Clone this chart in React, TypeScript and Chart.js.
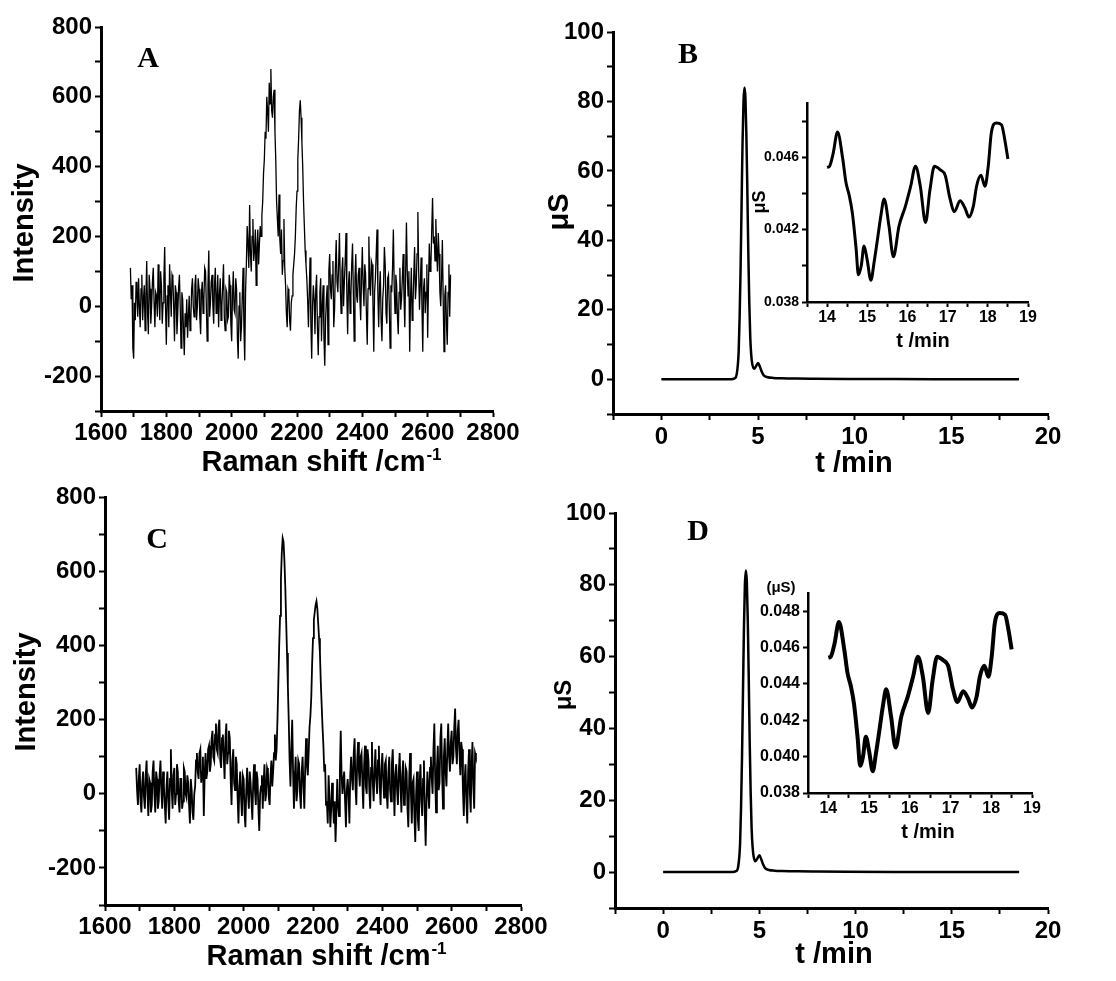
import React, { useEffect, useRef } from "react";
import { Chart, registerables } from "chart.js";

Chart.register(...registerables);

// ---------------- data ----------------
const ramanShift = [
  1690, 1692.5, 1695, 1697.5, 1700, 1702.5, 1705, 1707.5, 1710, 1712.5, 1715, 1717.5, 1720, 1722.5, 1725, 1727.5, 1730, 1732.5, 1735, 1737.5,
  1740, 1742.5, 1745, 1747.5, 1750, 1752.5, 1755, 1757.5, 1760, 1762.5, 1765, 1767.5, 1770, 1772.5, 1775, 1777.5, 1780, 1782.5, 1785, 1787.5,
  1790, 1792.5, 1795, 1797.5, 1800, 1802.5, 1805, 1807.5, 1810, 1812.5, 1815, 1817.5, 1820, 1822.5, 1825, 1827.5, 1830, 1832.5, 1835, 1837.5,
  1840, 1842.5, 1845, 1847.5, 1850, 1852.5, 1855, 1857.5, 1860, 1862.5, 1865, 1867.5, 1870, 1872.5, 1875, 1877.5, 1880, 1882.5, 1885, 1887.5,
  1890, 1892.5, 1895, 1897.5, 1900, 1902.5, 1905, 1907.5, 1910, 1912.5, 1915, 1917.5, 1920, 1922.5, 1925, 1927.5, 1930, 1932.5, 1935, 1937.5,
  1940, 1942.5, 1945, 1947.5, 1950, 1952.5, 1955, 1957.5, 1960, 1962.5, 1965, 1967.5, 1970, 1972.5, 1975, 1977.5, 1980, 1982.5, 1985, 1987.5,
  1990, 1992.5, 1995, 1997.5, 2000, 2002.5, 2005, 2007.5, 2010, 2012.5, 2015, 2017.5, 2020, 2022.5, 2025, 2027.5, 2030, 2032.5, 2035, 2037.5,
  2040, 2042.5, 2045, 2047.5, 2050, 2052.5, 2055, 2057.5, 2060, 2062.5, 2065, 2067.5, 2070, 2072.5, 2075, 2077.5, 2080, 2082.5, 2085, 2087.5,
  2090, 2092.5, 2095, 2097.5, 2100, 2102.5, 2105, 2107.5, 2110, 2112.5, 2115, 2117.5, 2120, 2122.5, 2125, 2127.5, 2130, 2132.5, 2135, 2137.5,
  2140, 2142.5, 2145, 2147.5, 2150, 2152.5, 2155, 2157.5, 2160, 2162.5, 2165, 2167.5, 2170, 2172.5, 2175, 2177.5, 2180, 2182.5, 2185, 2187.5,
  2190, 2192.5, 2195, 2197.5, 2200, 2202.5, 2205, 2207.5, 2210, 2212.5, 2215, 2217.5, 2220, 2222.5, 2225, 2227.5, 2230, 2232.5, 2235, 2237.5,
  2240, 2242.5, 2245, 2247.5, 2250, 2252.5, 2255, 2257.5, 2260, 2262.5, 2265, 2267.5, 2270, 2272.5, 2275, 2277.5, 2280, 2282.5, 2285, 2287.5,
  2290, 2292.5, 2295, 2297.5, 2300, 2302.5, 2305, 2307.5, 2310, 2312.5, 2315, 2317.5, 2320, 2322.5, 2325, 2327.5, 2330, 2332.5, 2335, 2337.5,
  2340, 2342.5, 2345, 2347.5, 2350, 2352.5, 2355, 2357.5, 2360, 2362.5, 2365, 2367.5, 2370, 2372.5, 2375, 2377.5, 2380, 2382.5, 2385, 2387.5,
  2390, 2392.5, 2395, 2397.5, 2400, 2402.5, 2405, 2407.5, 2410, 2412.5, 2415, 2417.5, 2420, 2422.5, 2425, 2427.5, 2430, 2432.5, 2435, 2437.5,
  2440, 2442.5, 2445, 2447.5, 2450, 2452.5, 2455, 2457.5, 2460, 2462.5, 2465, 2467.5, 2470, 2472.5, 2475, 2477.5, 2480, 2482.5, 2485, 2487.5,
  2490, 2492.5, 2495, 2497.5, 2500, 2502.5, 2505, 2507.5, 2510, 2512.5, 2515, 2517.5, 2520, 2522.5, 2525, 2527.5, 2530, 2532.5, 2535, 2537.5,
  2540, 2542.5, 2545, 2547.5, 2550, 2552.5, 2555, 2557.5, 2560, 2562.5, 2565, 2567.5, 2570, 2572.5, 2575, 2577.5, 2580, 2582.5, 2585, 2587.5,
  2590, 2592.5, 2595, 2597.5, 2600, 2602.5, 2605, 2607.5, 2610, 2612.5, 2615, 2617.5, 2620, 2622.5, 2625, 2627.5, 2630, 2632.5, 2635, 2637.5,
  2640, 2642.5, 2645, 2647.5, 2650, 2652.5, 2655, 2657.5, 2660, 2662.5, 2665, 2667.5, 2670,
];

const intensityA = [
  110, 20, 60, -120, -150, 10, -40, 70, 40, -30, 80, 0, -60, 50, 90, -40, 20, 60, -70, 30,
  130, -20, -80, 90, 50, -50, 0, 70, 110, 10, -60, 40, 30, -30, 120, 20, -40, 100, 60, -50,
  10, 80, 170, 0, -110, 30, 60, -60, 120, 40, -30, 90, 80, 0, -100, 60, 40, -80, -20, 50,
  90, 0, -120, 40, 20, -70, -140, -20, -60, 20, -90, -30, 30, -70, -40, 50, 80, 0, -30, 60,
  90, -40, 0, 80, 50, -30, -80, 40, 70, -20, 20, 110, 100, 0, -100, 60, 160, -30, 10, 70,
  90, 0, -50, 60, 110, -20, 20, 90, -60, 30, 80, -40, 0, 60, 120, -30, -70, 50, 40, -40,
  -30, 90, 60, -50, -100, 30, 100, -10, -20, 80, 50, -90, -150, 0, 40, -100, -60, 30, 110, -60,
  -155, 40, 120, 230, 180, 110, 290, 150, 100, 200, 250, 130, 160, 220, 60, 170, 220, 120, 180, 230,
  200, 260, 300, 380, 420, 500, 480, 600, 560, 500, 640, 580, 680, 560, 540, 600, 620, 500, 420, 300,
  250, 200, 320, 190, 150, 220, 90, 130, 250, 110, 60, -20, -60, 50, 40, -40, -70, 10, 30, 90,
  120, 150, 200, 280, 330, 420, 480, 560, 590, 540, 470, 400, 300, 230, 160, 120, 80, 20, -60, 40,
  140, -50, -150, 0, 60, 20, -80, 50, 90, -60, -140, -30, 40, 80, -100, 0, 60, -90, -170, -40,
  20, 60, -110, 100, 150, 50, 20, 90, 130, -60, -10, 110, 190, 70, 40, 120, 210, 60, -20, 100,
  140, 0, 70, 130, 210, 40, -80, 60, 100, -20, 30, 120, 180, 40, -100, 80, 150, 30, 10, 90,
  110, 20, -40, 80, 170, 60, 0, 120, 90, -20, -110, 50, 200, 70, 30, 130, 120, 10, -130, 40,
  80, 150, 220, 40, -60, 50, 100, -40, -100, 20, 60, 170, 120, -20, -50, 80, 90, 0, -120, 60,
  40, 110, 220, 60, -20, 90, 60, -30, -80, 40, 110, -10, 20, 80, 150, 30, -60, 90, 240, 100,
  30, 100, -130, 20, 110, -40, 0, 90, 170, 20, 60, 150, 270, 100, -10, 60, 140, 0, -130, 50,
  80, -20, 40, 120, -90, 60, 180, 100, 120, 220, 310, 180, 200, 130, 250, 160, 100, 210, 150, 40,
  0, 80, 190, 20, -130, 30, 60, -50, -110, 40, 120, -30, 90,
];

const intensityC = [
  70, 10, -30, 40, 80, -20, -50, 30, 60, -10, -40, 50, 90, 0, -60, 40, 30, -50, -30, 60,
  90, 0, -50, 60, 40, -40, -20, 50, 90, 10, -40, 60, 20, -30, -80, 20, 60, -20, -70, 40,
  120, 10, -40, 50, 70, -30, 0, 80, 60, -20, -50, 40, 40, -40, -20, 70, 60, 0, -10, 50,
  30, -30, -80, 40, 10, -50, -70, 0, 20, 90, 110, 60, 40, 110, 120, 30, 60, 100, -60, 50,
  110, 40, 60, 120, 130, 60, 80, 150, 170, 100, 90, 160, 190, 120, 110, 180, 200, 90, 70, 150,
  160, 100, 40, 150, 190, 80, 110, 170, 150, 40, -30, 90, 120, 30, 10, 100, 80, -10, -80, 20,
  60, -10, -60, 50, 40, -50, -90, 10, 70, 0, -40, 60, 30, -20, -70, 30, 80, 10, -30, 60,
  40, -40, -100, 0, 20, 50, -40, 30, 80, -20, 0, 70, 60, -10, -30, 50, 90, 20, 60, 110,
  160, 90, 120, 200, 300, 400, 480, 580, 650, 690, 680, 630, 560, 470, 380, 290, 200, 90, 20, 120,
  200, 60, -40, 40, 100, -20, 10, 90, 80, 0, -40, 60, 100, 20, -40, 70, 150, 80, 50, 110,
  180, 210, 260, 350, 420, 470, 490, 510, 520, 500, 460, 420, 380, 300, 240, 180, 130, 60, 80, -30,
  -20, -80, 50, -10, -90, -40, 30, -20, -80, -20, -130, -50, 40, -30, -60, 60, 170, 50, 0, 40,
  60, -20, -90, 10, 40, 0, -80, 50, 100, 40, 10, 110, 150, 20, -30, 90, 140, 60, 20, 100,
  110, 30, -40, 80, 130, 20, 0, 120, 90, 10, -40, 70, 140, 30, -20, 60, 120, 40, 0, 90,
  130, 20, -30, 70, 110, 40, -10, 80, 90, 0, -40, 60, 100, 10, -20, 80, 120, 30, -60, 50,
  80, 10, -30, 60, 110, 20, -50, 50, 90, -30, -20, 70, 60, -40, -90, 40, 110, 0, -80, 30,
  40, -60, -130, 0, 60, -70, -100, 30, 80, -20, -60, 40, 90, -50, -140, -20, 60, 10, -40, 70,
  100, 40, 0, 120, 190, 40, -50, 70, 130, 10, 30, 150, 190, 50, -40, 100, 150, 60, 20, 120,
  190, 100, 60, 140, 170, 80, 100, 180, 230, 120, 80, 170, 200, 110, 50, 140, 120, 10, -60, 40,
  80, -20, -80, 60, 120, 0, -50, 80, 140, 20, -40, 110, 100,
];

const chromTime = [
  0, 2, 3.6, 3.8, 3.9, 4.0, 4.05, 4.1, 4.15, 4.2, 4.25, 4.3, 4.35, 4.4, 4.45,
  4.5, 4.55, 4.6, 4.65, 4.7, 4.8, 4.9, 5.0, 5.1, 5.2, 5.3, 5.5, 5.8, 6.2, 7,
  8, 9.5, 12, 15, 18.5,
];
const chromSignal = [
  0, 0, 0, 0.3, 1.5, 8, 18, 32, 50, 68, 80, 84, 81, 70, 54,
  36, 22, 12, 7, 4.5, 3, 3.8, 4.7, 3.6, 2.1, 1.1, 0.6, 0.4, 0.3, 0.2,
  0.15, 0.1, 0.05, 0.02, 0,
];

const insetTime = [
  14.0, 14.06, 14.15, 14.26, 14.39, 14.47, 14.55, 14.63, 14.72, 14.78,
  14.85, 14.92, 15.0, 15.09, 15.17, 15.25, 15.34, 15.42, 15.54, 15.65,
  15.79, 15.95, 16.08, 16.2, 16.32, 16.45, 16.56, 16.67, 16.82, 16.94,
  17.06, 17.17, 17.31, 17.43, 17.53, 17.64, 17.72, 17.83, 17.93, 18.01,
  18.09, 18.21, 18.34, 18.42, 18.5,
];
const insetSignal = [
  0.04544, 0.0455, 0.0462, 0.0474, 0.0459, 0.0446, 0.0439, 0.0429, 0.041, 0.0395,
  0.04, 0.0411, 0.0403, 0.0392, 0.0402, 0.0414, 0.0428, 0.0437, 0.0422, 0.0405,
  0.0422, 0.0433, 0.0444, 0.0455, 0.0444, 0.0424, 0.0442, 0.0455, 0.0453, 0.045,
  0.0437, 0.043, 0.0436, 0.0432, 0.0427, 0.0433, 0.0444, 0.045, 0.0444, 0.0455,
  0.0474, 0.0479, 0.0478, 0.047, 0.0459,
];

// tick values / labels
const ramanTicks = [1600, 1700, 1800, 1900, 2000, 2100, 2200, 2300, 2400, 2500, 2600, 2700, 2800];
const ramanLabels = [1600, 1800, 2000, 2200, 2400, 2600, 2800];
const intensityTicks = [-300, -200, -100, 0, 100, 200, 300, 400, 500, 600, 700, 800];
const intensityLabels = [-200, 0, 200, 400, 600, 800];
const timeTicks = [-2.5, 0, 2.5, 5, 7.5, 10, 12.5, 15, 17.5, 20];
const timeLabels = [0, 5, 10, 15, 20];
const signalTicks = [-10, 0, 10, 20, 30, 40, 50, 60, 70, 80, 90, 100];
const signalLabels = [0, 20, 40, 60, 80, 100];
const insetTimeTicks = [13.5, 14, 14.5, 15, 15.5, 16, 16.5, 17, 17.5, 18, 18.5, 19];
const insetTimeLabels = [14, 15, 16, 17, 18, 19];
const insetSignalTicks = [0.038, 0.04, 0.042, 0.044, 0.046, 0.048];
const insetBLabels = [0.038, 0.042, 0.046];
const insetDLabels = [0.038, 0.04, 0.042, 0.044, 0.046, 0.048];

// ---------------- drawing helpers ----------------
const SANS = '"Liberation Sans", Arial, sans-serif';
const SERIF = '"Liberation Serif", "Times New Roman", serif';

type Txt = { text: string; x: number; y: number; size: number; serif?: boolean; rotate?: boolean; sup?: string };
type AxisSpec = { min: number; max: number; ticks: number[]; labels: number[]; decimals: number; size: number; pad: number; tickLen: number };
type PanelSpec = {
  left: number; top: number; w: number; h: number;
  area: [number, number, number, number];
  wy: number; hx: number;
  x: AxisSpec; y: AxisSpec;
  border: number;
  xs: number[]; ys: number[];
  lineWidth: number; smooth: boolean;
  texts: Txt[];
};

function textPlugin(items: Txt[], ox: number, oy: number) {
  return {
    id: "pageText",
    afterDraw(chart: any) {
      const ctx = chart.ctx as CanvasRenderingContext2D;
      ctx.save();
      ctx.fillStyle = "#000";
      ctx.textBaseline = "middle";
      for (const it of items) {
        const font = `bold ${it.size}px ${it.serif ? SERIF : SANS}`;
        ctx.save();
        ctx.translate(it.x - ox, it.y - oy);
        if (it.rotate) ctx.rotate(-Math.PI / 2);
        ctx.font = font;
        if (it.sup) {
          const w1 = ctx.measureText(it.text).width;
          const supFont = `bold ${Math.round(it.size * 0.6)}px ${SANS}`;
          ctx.font = supFont;
          const w2 = ctx.measureText(it.sup).width;
          const x0 = -(w1 + w2) / 2;
          ctx.font = font;
          ctx.textAlign = "left";
          ctx.fillText(it.text, x0, 0);
          ctx.font = supFont;
          ctx.fillText(it.sup, x0 + w1 + 1, -it.size * 0.28);
        } else {
          ctx.textAlign = "center";
          ctx.fillText(it.text, 0, 0);
        }
        ctx.restore();
      }
      ctx.restore();
    },
  };
}

function buildConfig(p: PanelSpec): any {
  const [l, t, r, b] = p.area;
  const padding = {
    left: l - p.left - p.wy,
    top: t - p.top,
    right: p.left + p.w - r,
    bottom: p.top + p.h - b - p.hx,
  };
  const data = p.xs.map((x, i) => ({ x, y: p.ys[i] }));
  const mkScale = (a: AxisSpec, horizontal: boolean) => ({
    type: "linear",
    position: horizontal ? "bottom" : "left",
    min: a.min,
    max: a.max,
    border: { display: true, color: "#000", width: p.border },
    grid: {
      display: true,
      drawOnChartArea: false,
      drawTicks: true,
      tickLength: a.tickLen,
      tickWidth: 2,
      tickColor: "#000",
      color: "#000",
    },
    ticks: {
      autoSkip: false,
      maxRotation: 0,
      minRotation: 0,
      color: "#000",
      padding: a.pad,
      font: { family: SANS, size: a.size, weight: "bold" },
      callback: (v: number) =>
        a.labels.some((L) => Math.abs(L - v) < 1e-9) ? Number(v).toFixed(a.decimals) : "",
    },
    afterBuildTicks: (s: any) => {
      s.ticks = a.ticks.map((v) => ({ value: v }));
    },
    afterFit: (s: any) => {
      if (horizontal) s.height = p.hx;
      else s.width = p.wy;
    },
  });
  return {
    type: "line",
    data: {
      datasets: [
        {
          data,
          borderColor: "#000",
          borderWidth: p.lineWidth,
          pointRadius: 0,
          fill: false,
          tension: p.smooth ? 0.4 : 0,
          cubicInterpolationMode: p.smooth ? "monotone" : "default",
        },
      ],
    },
    options: {
      responsive: false,
      animation: false,
      devicePixelRatio: 1,
      events: [],
      layout: { padding, autoPadding: false },
      plugins: { legend: { display: false }, tooltip: { enabled: false }, title: { display: false } },
      scales: { x: mkScale(p.x, true), y: mkScale(p.y, false) },
    },
    plugins: [textPlugin(p.texts, p.left, p.top)],
  };
}

// ---------------- panels ----------------
const ramanX = (size: number): AxisSpec => ({ min: 1600, max: 2800, ticks: ramanTicks, labels: ramanLabels, decimals: 0, size, pad: 2, tickLen: 6 });
const intensityY = (size: number): AxisSpec => ({ min: -300, max: 800, ticks: intensityTicks, labels: intensityLabels, decimals: 0, size, pad: 3, tickLen: 6 });
const timeX = (size: number): AxisSpec => ({ min: -2.5, max: 20, ticks: timeTicks, labels: timeLabels, decimals: 0, size, pad: 3, tickLen: 6 });
const signalY = (size: number): AxisSpec => ({ min: -10, max: 100, ticks: signalTicks, labels: signalLabels, decimals: 0, size, pad: 3, tickLen: 6 });
const insetX: AxisSpec = { min: 13.5, max: 19, ticks: insetTimeTicks, labels: insetTimeLabels, decimals: 0, size: 16, pad: 1, tickLen: 5 };

const panels: PanelSpec[] = [
  {
    left: 0, top: 0, w: 558, h: 490,
    area: [101, 27, 493, 411], wy: 80, hx: 50,
    x: ramanX(24), y: intensityY(24), border: 3,
    xs: ramanShift, ys: intensityA, lineWidth: 1.3, smooth: false,
    texts: [
      { text: "A", x: 148, y: 59, size: 30, serif: true },
      { text: "Intensity", x: 25, y: 223, size: 29, rotate: true },
      { text: "Raman shift /cm", sup: "-1", x: 321, y: 463, size: 29 },
    ],
  },
  {
    left: 540, top: 0, w: 576, h: 490,
    area: [613, 32, 1048, 414], wy: 60, hx: 50,
    x: timeX(24), y: signalY(24), border: 3,
    xs: chromTime, ys: chromSignal, lineWidth: 2.5, smooth: true,
    texts: [
      { text: "B", x: 688, y: 55, size: 30, serif: true },
      { text: "μS", x: 560, y: 212, size: 29, rotate: true },
      { text: "t /min", x: 854, y: 464, size: 29 },
    ],
  },
  {
    left: 0, top: 480, w: 558, h: 501,
    area: [105, 493, 521, 905], wy: 80, hx: 50,
    x: ramanX(24), y: intensityY(24), border: 3,
    xs: ramanShift, ys: intensityC, lineWidth: 1.8, smooth: false,
    texts: [
      { text: "C", x: 157, y: 540, size: 30, serif: true },
      { text: "Intensity", x: 27, y: 692, size: 29, rotate: true },
      { text: "Raman shift /cm", sup: "-1", x: 326, y: 957, size: 29 },
    ],
  },
  {
    left: 540, top: 480, w: 576, h: 501,
    area: [615, 513, 1048, 908], wy: 60, hx: 50,
    x: timeX(24), y: signalY(24), border: 3,
    xs: chromTime, ys: chromSignal, lineWidth: 2.5, smooth: true,
    texts: [
      { text: "D", x: 698, y: 532, size: 30, serif: true },
      { text: "μS", x: 564, y: 695, size: 24, rotate: true },
      { text: "t /min", x: 834, y: 955, size: 29 },
    ],
  },
  {
    left: 740, top: 80, w: 320, h: 280,
    area: [807, 103, 1028, 302], wy: 60, hx: 40,
    x: insetX,
    y: { min: 0.038, max: 0.049, ticks: insetSignalTicks, labels: insetBLabels, decimals: 3, size: 14, pad: 3, tickLen: 5 },
    border: 2.5,
    xs: insetTime, ys: insetSignal, lineWidth: 3, smooth: true,
    texts: [
      { text: "μS", x: 760, y: 202, size: 18, rotate: true },
      { text: "t /min", x: 923, y: 341, size: 20 },
    ],
  },
  {
    left: 740, top: 570, w: 320, h: 280,
    area: [808, 593, 1032, 793], wy: 60, hx: 40,
    x: insetX,
    y: { min: 0.038, max: 0.049, ticks: insetSignalTicks, labels: insetDLabels, decimals: 3, size: 16, pad: 3, tickLen: 5 },
    border: 2.5,
    xs: insetTime, ys: insetSignal, lineWidth: 4, smooth: true,
    texts: [
      { text: "(μS)", x: 781, y: 588, size: 15 },
      { text: "t /min", x: 928, y: 832, size: 20 },
    ],
  },
];

function PanelChart({ spec }: { spec: PanelSpec }) {
  const ref = useRef<HTMLCanvasElement | null>(null);
  useEffect(() => {
    if (!ref.current) return;
    const chart = new Chart(ref.current, buildConfig(spec));
    return () => chart.destroy();
  }, [spec]);
  return (
    <canvas
      ref={ref}
      width={spec.w}
      height={spec.h}
      style={{ position: "absolute", left: spec.left, top: spec.top, width: spec.w, height: spec.h }}
    />
  );
}

export default function App() {
  return (
    <div style={{ position: "absolute", left: 0, top: 0, width: 1116, height: 981, background: "#fff", overflow: "hidden" }}>
      {panels.map((p, i) => (
        <PanelChart key={i} spec={p} />
      ))}
    </div>
  );
}
